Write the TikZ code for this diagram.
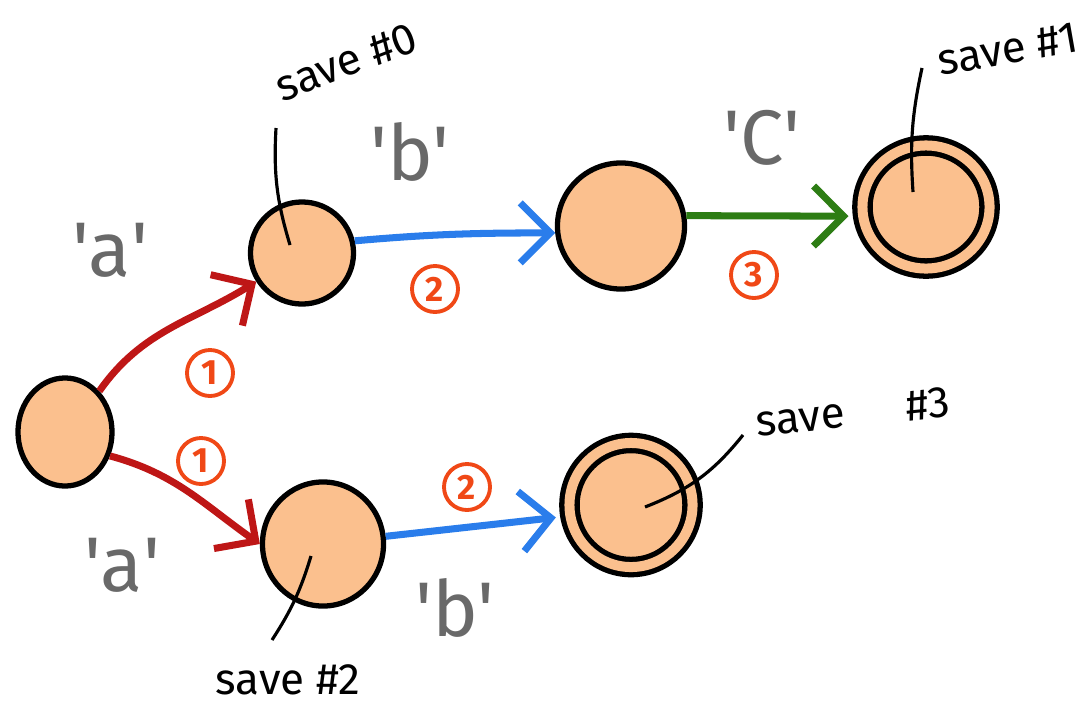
\documentclass[tikz,border=0pt]{standalone}
\usepackage{fontspec}
\newfontfamily\handfont{Fira Sans}
\usetikzlibrary{arrows.meta,positioning,shapes.geometric,calc}
\definecolor{peach}{RGB}{251,192,142}
\definecolor{edgeR}{RGB}{190,22,22}
\definecolor{edgeB}{RGB}{42,125,235}
\definecolor{edgeG}{RGB}{45,125,20}
\definecolor{stepO}{RGB}{240,72,22}
\definecolor{chrG}{RGB}{105,105,105}

\begin{document}
\begin{tikzpicture}[x=0.01cm, y=0.01cm, font=\handfont,
  state/.style={ellipse, draw=black, line width=1.5pt, fill=peach, inner sep=0pt},
  accept/.style={state, double=peach, double distance=1mm},
  edge/.style={line width=2pt, -{Straight Barb[length=3mm,width=6mm]}},
  chr/.style={text=chrG, font=\handfont\fontsize{22}{24}\selectfont},
  num/.style={circle, draw=stepO, text=stepO, line width=1.1pt, inner sep=0pt,
              minimum size=4.6mm, font=\handfont\bfseries\fontsize{10}{10}\selectfont},
  note/.style={font=\handfont\fontsize{12.5}{14}\selectfont},
  lead/.style={line width=0.9pt}]
  \useasboundingbox (0,0) rectangle (1082,702);

  % states
  \node[state, minimum width=0.94cm, minimum height=1.08cm] (q0) at (65,270) {};
  \node[state, minimum width=1.03cm, minimum height=1.02cm] (q1) at (302,449) {};
  \node[state, minimum width=1.27cm, minimum height=1.26cm] (q2) at (621,476) {};
  \node[accept, minimum width=1.27cm, minimum height=1.23cm] (q3) at (926,495) {};
  \node[state, minimum width=1.21cm, minimum height=1.24cm] (q4) at (323,158) {};
  \node[accept, minimum width=1.23cm, minimum height=1.24cm] (q5) at (631,197) {};

  % transitions
  \draw[edge, edgeR] (q0.50) to[out=55, in=212] (q1.212);
  \draw[edge, edgeR] (q0.-28) to[out=-15, in=145] (q4.west);
  \draw[edge, edgeB] (q1.13) to[out=5, in=180] (q2.186);
  \draw[edge, edgeG, shorten >=1.2mm] (q2.9) -- (q3.188);
  \draw[edge, edgeB, shorten >=1.2mm] (q4.7) -- (q5.190);

  % input characters
  \node[chr] (ca1) at (110,452) {\textquotesingle a\textquotesingle};
  \node[chr] (ca2) at (122,137) {\textquotesingle a\textquotesingle};
  \node[chr] (cb1) at (410,550) {\textquotesingle b\textquotesingle};
  \node[chr] (cb2) at (455,94) {\textquotesingle b\textquotesingle};
  \node[chr] (cc) at (762,564) {\textquotesingle C\textquotesingle};

  % step numbers
  \node[num] (s1a) at (210,329) {1};
  \node[num] (s1b) at (201,241) {1};
  \node[num] (s2a) at (435,413) {2};
  \node[num] (s2b) at (467,215) {2};
  \node[num] (s3) at (754,427) {3};

  % save marks
  \node[note, rotate=21] (sv0) at (346,640) {save \#0};
  \node[note, rotate=10] (sv1) at (1008,653) {save \#1};
  \node[note] (sv2) at (288,22) {save \#2};
  \node[note, rotate=6] (sv3) at (853,290) {save\hspace{1.4em}\#3};
  \coordinate (e0) at (276,574);
  \coordinate (e1) at (922,634);
  \coordinate (e2) at (272,62);
  \coordinate (e3) at (743,267);
  \draw[lead] ($(q1.center)+(-12,8)$) to[bend left=10] (e0);
  \draw[lead] ($(q3.center)+(-13,15)$) to[bend left=8] (e1);
  \draw[lead] ($(q4.center)+(-12,-12)$) to[bend left=8] (e2);
  \draw[lead] ($(q5.center)+(14,-2)$) to[bend right=15] (e3);
\end{tikzpicture}
\end{document}
